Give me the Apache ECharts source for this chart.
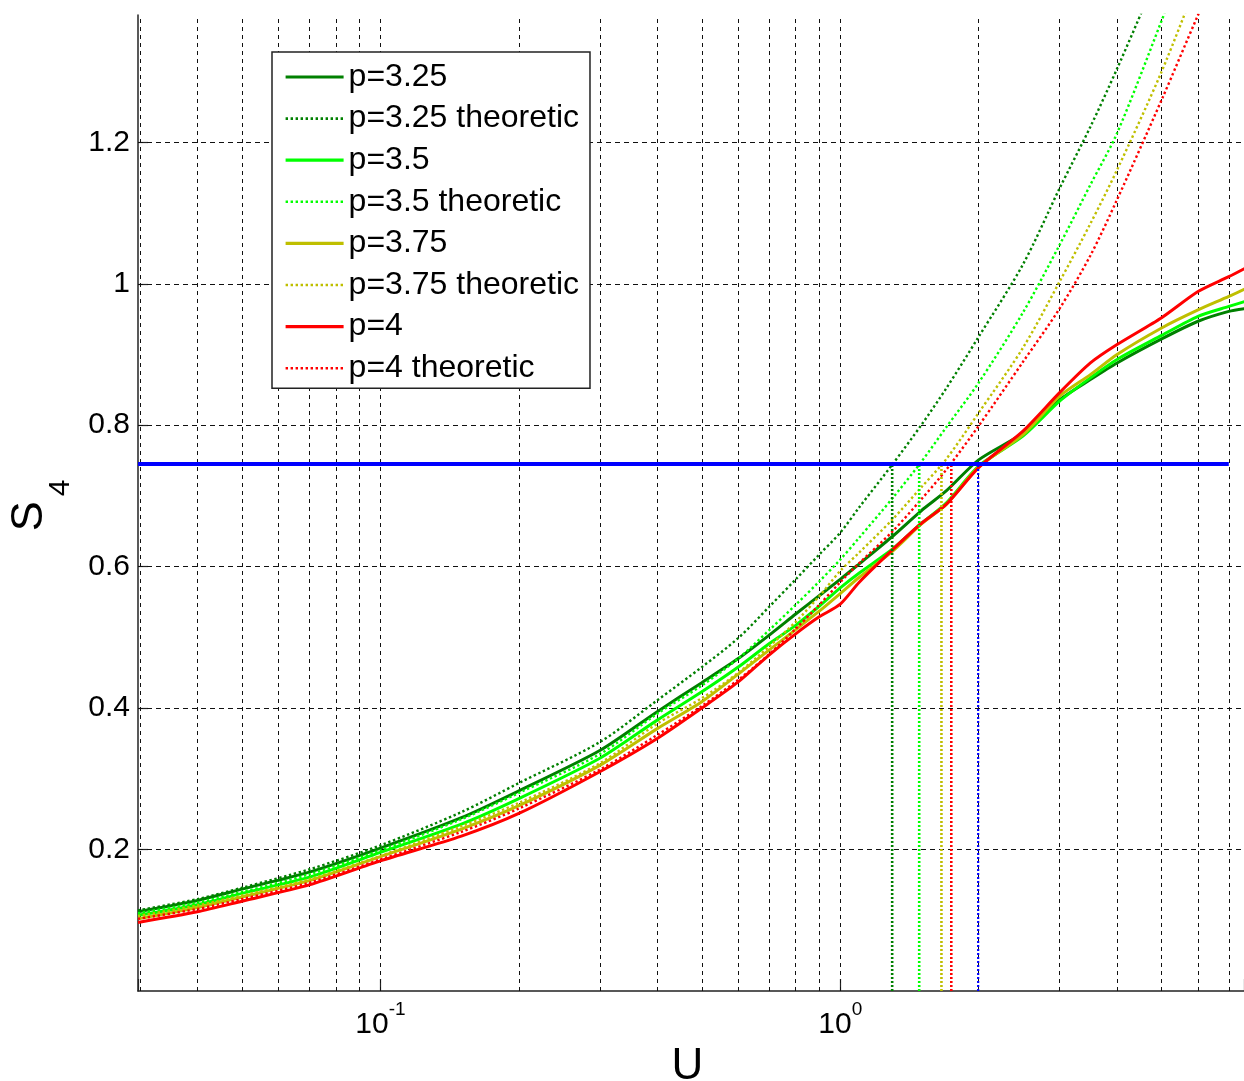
<!DOCTYPE html>
<html>
<head>
<meta charset="utf-8">
<script src="https://cdn.jsdelivr.net/npm/echarts@6/dist/echarts.min.js"></script>
<style>
html,body{margin:0;padding:0;background:#fff;}
#c{width:1244px;height:1081px;}
</style>
</head>
<body>
<div id="c"></div>
<script>
// ---- data ----
const U = [0.0297,0.04,0.05,0.07,0.1,0.15,0.2,0.3,0.4,0.5,0.6,0.7,0.8,0.9,1.0,1.1,1.3,1.5,1.7,2.0,2.5,3.0,3.5,4.0,5.0,6.0,7.0,7.6];
const s325 = [0.112,0.128,0.144,0.168,0.202,0.245,0.283,0.340,0.395,0.436,0.470,0.503,0.533,0.559,0.582,0.604,0.643,0.679,0.707,0.751,0.789,0.836,0.8645,0.888,0.922,0.947,0.961,0.965];
const s35  = [0.107,0.122,0.138,0.161,0.196,0.236,0.272,0.329,0.383,0.423,0.458,0.491,0.517,0.544,0.570,0.591,0.625,0.661,0.690,0.742,0.785,0.834,0.867,0.893,0.927,0.954,0.968,0.975];
const s375 = [0.102,0.118,0.133,0.156,0.190,0.229,0.262,0.319,0.371,0.409,0.448,0.482,0.511,0.537,0.562,0.585,0.622,0.660,0.688,0.741,0.787,0.841,0.8715,0.900,0.9375,0.963,0.982,0.993];
const s4   = [0.097,0.112,0.127,0.150,0.184,0.219,0.251,0.310,0.357,0.400,0.437,0.475,0.505,0.529,0.547,0.578,0.624,0.661,0.688,0.740,0.792,0.846,0.888,0.914,0.952,0.989,1.010,1.022];

const tU325 = [0.0297,0.04,0.05,0.07,0.1,0.15,0.2,0.3,0.4,0.5,0.6,0.7,0.8,0.9,1.0,1.1,1.3,1.5,1.7,2.0,2.5,3.0,3.5,4.0,4.6];
const t325  = [0.114,0.130,0.146,0.172,0.206,0.253,0.294,0.352,0.411,0.458,0.499,0.543,0.582,0.617,0.648,0.684,0.745,0.800,0.852,0.925,1.028,1.135,1.222,1.304,1.395];
const tU35  = [0.0297,0.04,0.05,0.07,0.1,0.15,0.2,0.3,0.4,0.5,0.6,0.7,0.8,0.9,1.0,1.1,1.3,1.5,1.7,2.0,2.5,3.0,3.5,4.0,5.0,5.4];
const t35   = [0.110,0.125,0.140,0.165,0.199,0.243,0.280,0.335,0.392,0.432,0.470,0.510,0.546,0.579,0.610,0.641,0.697,0.748,0.797,0.860,0.960,1.055,1.140,1.213,1.372,1.43];
const tU375 = [0.0297,0.04,0.05,0.07,0.1,0.15,0.2,0.3,0.4,0.5,0.6,0.7,0.8,0.9,1.0,1.1,1.3,1.5,1.7,2.0,2.5,3.0,3.5,4.0,5.0,6.0];
const t375  = [0.106,0.121,0.135,0.158,0.191,0.233,0.266,0.322,0.378,0.414,0.450,0.487,0.522,0.558,0.594,0.620,0.667,0.712,0.752,0.8175,0.91,1.003,1.085,1.161,1.30,1.43];
const tU4   = [0.0297,0.04,0.05,0.07,0.1,0.15,0.2,0.3,0.4,0.5,0.6,0.7,0.8,0.9,1.0,1.1,1.3,1.5,1.7,2.0,2.5,3.0,3.5,4.0,5.0,6.0,6.5];
const t4    = [0.102,0.116,0.130,0.153,0.186,0.225,0.258,0.313,0.362,0.403,0.440,0.476,0.512,0.546,0.578,0.605,0.650,0.695,0.737,0.799,0.89,0.965,1.04,1.119,1.26,1.38,1.43];

const level = 0.745;                       // blue threshold
const levelU = [0.0297, 7];                // extent of blue line
const crossU = [1.297, 1.485, 1.66, 1.744, 1.995];
const gridX = [0.03,0.04,0.05,0.06,0.07,0.08,0.09,0.1,0.2,0.3,0.4,0.5,0.6,0.7,0.8,0.9,1,2,3,4,5,6,7];
const gridY = [0.2,0.4,0.6,0.8,1.0,1.2];
const names = ['p=3.25','p=3.25 theoretic','p=3.5','p=3.5 theoretic','p=3.75','p=3.75 theoretic','p=4','p=4 theoretic'];

// ---- styling ----
const FONT = "'Liberation Sans', Arial, Helvetica, sans-serif";
const C = { g1:'#008000', g2:'#00ff00', y:'#bfbf00', r:'#ff0000', b:'#0000ff' };
const crossColors = [C.g1, C.g2, C.y, C.r, C.b];
const DOT = [2.4, 2.6];

const pairs = (xs, ys) => xs.map((x, i) => [x, ys[i]]);
function solid(name, xs, ys, color) {
  return { name, type:'line', data:pairs(xs, ys), symbol:'none', symbolSize:0, smooth:0.25,
    lineStyle:{ color, width:3, type:'solid' }, itemStyle:{color}, z:3 };
}
function dotted(name, xs, ys, color) {
  return { name, type:'line', data:pairs(xs, ys), symbol:'none', symbolSize:0, smooth:0.3,
    lineStyle:{ color, width:2.4, type:DOT }, itemStyle:{color}, z:3 };
}

const series = [
  { name:'grid', type:'line', data:[], silent:true,
    markLine:{ silent:true, symbol:['none','none'], label:{show:false}, z:1, animation:false,
      data: gridX.map(v => ({ xAxis:v, lineStyle:{ color:'#111', width:1, type:[4,4] } }))
        .concat(gridY.map(v => ({ yAxis:v, lineStyle:{ color:'#111', width:1, type:[5,4] } }))) } },
  solid(names[0], U, s325, C.g1),
  dotted(names[1], tU325, t325, C.g1),
  solid(names[2], U, s35, C.g2),
  dotted(names[3], tU35, t35, C.g2),
  solid(names[4], U, s375, C.y),
  dotted(names[5], tU375, t375, C.y),
  solid(names[6], U, s4, C.r),
  dotted(names[7], tU4, t4, C.r),
];
crossU.forEach((u, i) => {
  series.push({ name:'cross' + i, type:'line', data:[[u, 0], [u, level]], symbol:'none', silent:true, z:4,
    lineStyle:{ color:crossColors[i], width:i === 4 ? 2.2 : 2.6, type:[2,2] } });
});
series.push({ name:'level', type:'line', data:levelU.map(u => [u, level]), symbol:'none', silent:true, z:5,
  lineStyle:{ color:C.b, width:4 } });

const legendData = names.map((n, i) => ({
  name:n,
  lineStyle: i % 2 === 0 ? { width:3.2, type:'solid' } : { width:2.6, type:DOT }
}));

const chart = echarts.init(document.getElementById('c'), null, { renderer:'canvas' });
chart.setOption({
  animation:false,
  backgroundColor:'#fff',
  textStyle:{ fontFamily:FONT, color:'#000' },
  grid:{ left:138, right:0, top:15, bottom:90, containLabel:false, outerBoundsMode:'none' },
  legend:{
    data:legendData, orient:'vertical', left:272, top:52, selectedMode:false,
    padding:[9,11,4,12], itemWidth:58, itemHeight:14, itemGap:9.6,
    itemStyle:{ opacity:0, borderWidth:0 },
    backgroundColor:'#fff', borderColor:'#222', borderWidth:1.5,
    textStyle:{ fontSize:32, lineHeight:32, color:'#000', fontFamily:FONT }
  },
  xAxis:{
    type:'log', logBase:10, min:0.0297, max:7.553,
    name:'U', nameLocation:'middle', nameGap:51,
    nameTextStyle:{ fontSize:44, color:'#000', fontFamily:FONT, padding:[0,7,0,0] },
    axisLine:{ show:true, lineStyle:{ color:'#222', width:1.5 } },
    axisTick:{ show:true, inside:true, length:12, lineStyle:{ color:'#222', width:1.2 } },
    splitLine:{ show:false }, minorTick:{show:false}, minorSplitLine:{show:false},
    axisLabel:{
      margin:9, color:'#000', fontFamily:FONT,
      formatter:v => { const e = Math.log10(v), r = Math.round(e);
        return Math.abs(e - r) > 1e-6 ? '' : '{a|10}{b|' + r + '}'; },
      rich:{ a:{ fontSize:30, padding:[9.5,0,0,0], verticalAlign:'top', color:'#000', fontFamily:FONT },
             b:{ fontSize:19, verticalAlign:'top', color:'#000', fontFamily:FONT } }
    }
  },
  yAxis:{
    type:'value', min:0, max:1.38, interval:0.2,
    name:'{s|S}{n|4}', nameLocation:'middle', nameGap:62,
    nameTextStyle:{ rich:{ s:{ fontSize:45, verticalAlign:'top', padding:[0,5,0,0], color:'#000', fontFamily:FONT },
                           n:{ fontSize:30, padding:[38.5,5,0,0], verticalAlign:'top', color:'#000', fontFamily:FONT } } },
    axisLine:{ show:true, lineStyle:{ color:'#222', width:1.5 } },
    axisTick:{ show:true, inside:true, length:10, lineStyle:{ color:'#222', width:1.2 } },
    splitLine:{ show:false },
    axisLabel:{ fontSize:30, margin:8, color:'#000', fontFamily:FONT, showMinLabel:false, showMaxLabel:false,
      formatter:v => String(Math.round(v * 10) / 10) }
  },
  series
});
</script>
</body>
</html>
